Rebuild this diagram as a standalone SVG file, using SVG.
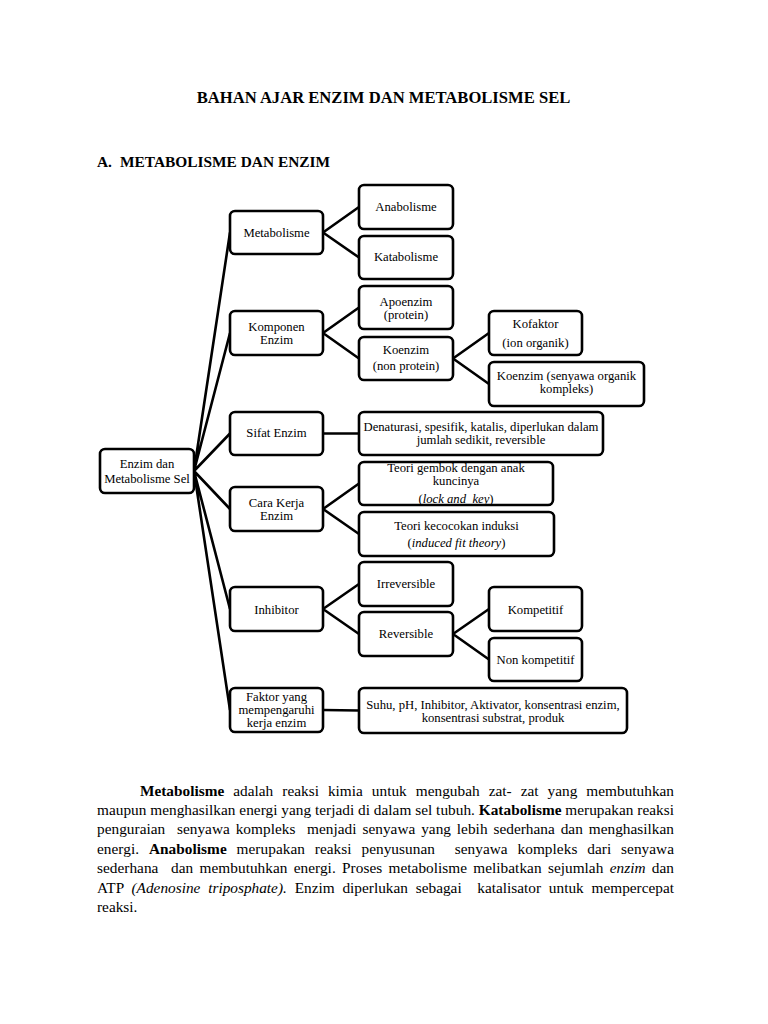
<svg xmlns="http://www.w3.org/2000/svg" width="768" height="1024" viewBox="0 0 768 1024">
<style>
.bg{fill:#fff}
.box{fill:#fff;stroke:#000;stroke-width:2.6}
.con{stroke:#000;stroke-width:2.6;fill:none}
.lbl{font-family:"Liberation Serif","Times New Roman",serif;font-size:12.7px;text-anchor:middle;fill:#000}
.hd{font-family:"Liberation Serif","Times New Roman",serif;font-weight:bold;fill:#000}
.body{font-family:"Liberation Serif","Times New Roman",serif;font-size:15.3px;fill:#000}
.b{font-weight:bold}
.i{font-style:italic}
</style>
<rect class="bg" x="0" y="0" width="768" height="1024"/>
<text class="hd" x="383.5" y="103" font-size="16.6" text-anchor="middle">BAHAN AJAR ENZIM DAN METABOLISME SEL</text>
<text class="hd" x="97" y="167" font-size="15.4">A.</text>
<text class="hd" x="120" y="167" font-size="15.4">METABOLISME DAN ENZIM</text>

<g id="connectors">
<path class="con" d="M194 471 L230 232.5 M194 471 L230 333 M194 471 L230 433.5 M194 471 L230 509 M194 471 L230 609 M194 471 L230 710"/>
<path class="con" d="M323 232.5 L359 207 M323 232.5 L359 257.5"/>
<path class="con" d="M323 333 L359 307.5 M323 333 L359 358.5"/>
<path class="con" d="M453 358.5 L489 333 M453 358.5 L489 384"/>
<path class="con" d="M323 433.5 L359 433.5"/>
<path class="con" d="M323 509 L359 483.5 M323 509 L359 534"/>
<path class="con" d="M323 609 L359 584 M323 609 L359 634"/>
<path class="con" d="M453 634 L489 609 M453 634 L489 659.5"/>
<path class="con" d="M323 710 L359 710.5"/>
</g>

<g id="root"><rect class="box" x="100" y="449" width="94" height="44" rx="5"/><text class="lbl" x="147" y="468">Enzim dan</text><text class="lbl" x="147" y="482.5">Metabolisme Sel</text></g>

<g id="metabolisme"><rect class="box" x="230" y="211" width="93" height="43" rx="5"/><text class="lbl" x="276.5" y="236.5">Metabolisme</text></g>
<g id="anabolisme"><rect class="box" x="359" y="185" width="94" height="44" rx="5"/><text class="lbl" x="406" y="211">Anabolisme</text></g>
<g id="katabolisme"><rect class="box" x="359" y="236" width="94" height="43" rx="5"/><text class="lbl" x="406" y="261">Katabolisme</text></g>

<g id="komponen"><rect class="box" x="230" y="311" width="93" height="44" rx="5"/><text class="lbl" x="276.5" y="331">Komponen</text><text class="lbl" x="276.5" y="343.5">Enzim</text></g>
<g id="apoenzim"><rect class="box" x="359" y="286" width="94" height="43" rx="5"/><text class="lbl" x="406" y="306">Apoenzim</text><text class="lbl" x="406" y="319">(protein)</text></g>
<g id="koenzim"><rect class="box" x="359" y="337" width="94" height="43" rx="5"/><text class="lbl" x="406" y="353.5">Koenzim</text><text class="lbl" x="406" y="370">(non protein)</text></g>
<g id="kofaktor"><rect class="box" x="489" y="311" width="93" height="44" rx="5"/><text class="lbl" x="535.5" y="328">Kofaktor</text><text class="lbl" x="535.5" y="347">(ion organik)</text></g>
<g id="koenzim-senyawa"><rect class="box" x="489" y="362" width="155" height="44" rx="5"/><text class="lbl" x="566.5" y="380">Koenzim (senyawa organik</text><text class="lbl" x="566.5" y="393">kompleks)</text></g>

<g id="sifat"><rect class="box" x="230" y="412" width="93" height="43" rx="5"/><text class="lbl" x="276.5" y="437">Sifat Enzim</text></g>
<g id="denaturasi"><rect class="box" x="359" y="412" width="244" height="43" rx="5"/><text class="lbl" x="481" y="431">Denaturasi, spesifik, katalis, diperlukan dalam</text><text class="lbl" x="481" y="444">jumlah sedikit, reversible</text></g>

<g id="cara-kerja"><rect class="box" x="230" y="487" width="93" height="44" rx="5"/><text class="lbl" x="276.5" y="507">Cara Kerja</text><text class="lbl" x="276.5" y="519.5">Enzim</text></g>
<g id="gembok"><rect class="box" x="359" y="462" width="194" height="43" rx="5"/><text class="lbl" x="456" y="471.5">Teori gembok dengan anak</text><text class="lbl" x="456" y="484.5">kuncinya</text><text class="lbl" x="456" y="503" xml:space="preserve">(<tspan class="i">lock and  key</tspan>)</text></g>
<g id="kecocokan"><rect class="box" x="359" y="512" width="195" height="44" rx="5"/><text class="lbl" x="456.5" y="530">Teori kecocokan induksi</text><text class="lbl" x="456.5" y="547">(<tspan class="i">induced fit theory</tspan>)</text></g>

<g id="inhibitor"><rect class="box" x="230" y="587" width="93" height="44" rx="5"/><text class="lbl" x="276.5" y="613.5">Inhibitor</text></g>
<g id="irreversible"><rect class="box" x="359" y="562" width="94" height="44" rx="5"/><text class="lbl" x="406" y="588">Irreversible</text></g>
<g id="reversible"><rect class="box" x="359" y="612" width="94" height="44" rx="5"/><text class="lbl" x="406" y="637.5">Reversible</text></g>
<g id="kompetitif"><rect class="box" x="489" y="587" width="93" height="44" rx="5"/><text class="lbl" x="535.5" y="613.5">Kompetitif</text></g>
<g id="non-kompetitif"><rect class="box" x="489" y="638" width="93" height="43" rx="5"/><text class="lbl" x="535.5" y="663.5">Non kompetitif</text></g>

<g id="faktor"><rect class="box" x="230" y="688" width="93" height="44" rx="5"/><text class="lbl" x="276.5" y="701">Faktor yang</text><text class="lbl" x="276.5" y="714">mempengaruhi</text><text class="lbl" x="276.5" y="727">kerja enzim</text></g>
<g id="suhu"><rect class="box" x="359" y="688" width="268" height="45" rx="5"/><text class="lbl" x="493" y="708.5">Suhu, pH, Inhibitor, Aktivator, konsentrasi enzim,</text><text class="lbl" x="493" y="721.5">konsentrasi substrat, produk</text></g>

<g id="paragraph">
<text class="body" x="140" y="795.5" word-spacing="5.2" textLength="534" lengthAdjust="spacing" xml:space="preserve"><tspan class="b">Metabolisme</tspan> adalah reaksi kimia untuk mengubah zat- zat yang membutuhkan</text>
<text class="body" x="97" y="814.9" textLength="577" lengthAdjust="spacing" xml:space="preserve">maupun menghasilkan energi yang terjadi di dalam sel tubuh. <tspan class="b">Katabolisme</tspan> merupakan reaksi</text>
<text class="body" x="97" y="834.3" word-spacing="2" textLength="577" lengthAdjust="spacing" xml:space="preserve">penguraian  senyawa kompleks  menjadi senyawa yang lebih sederhana dan menghasilkan</text>
<text class="body" x="97" y="853.7" word-spacing="6" textLength="577" lengthAdjust="spacing" xml:space="preserve">energi. <tspan class="b">Anabolisme</tspan> merupakan reaksi penyusunan  senyawa kompleks dari senyawa</text>
<text class="body" x="97" y="873.1" word-spacing="2.5" textLength="577" lengthAdjust="spacing" xml:space="preserve">sederhana  dan membutuhkan energi. Proses metabolisme melibatkan sejumlah <tspan class="i">enzim</tspan> dan</text>
<text class="body" x="97" y="892.5" word-spacing="4" textLength="577" lengthAdjust="spacing" xml:space="preserve">ATP <tspan class="i">(Adenosine triposphate).</tspan> Enzim diperlukan sebagai  katalisator untuk mempercepat</text>
<text class="body" x="97" y="911.9" xml:space="preserve">reaksi.</text>
</g>
</svg>
